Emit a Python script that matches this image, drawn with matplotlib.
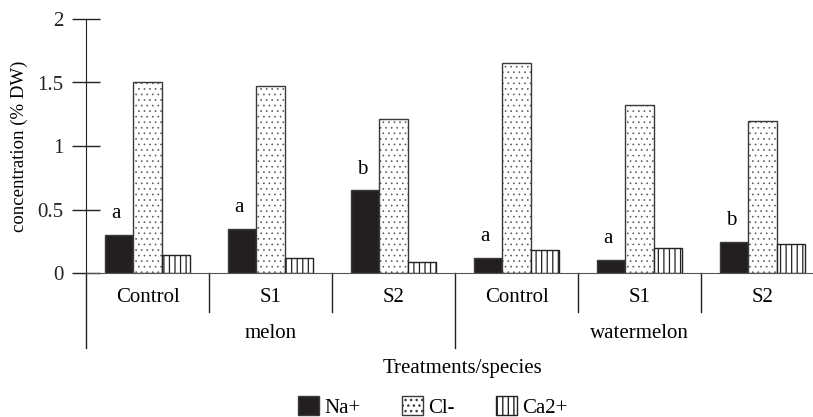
import matplotlib
matplotlib.use("Agg")
import matplotlib.pyplot as plt
import numpy as np
from matplotlib.patches import Patch
from matplotlib.transforms import blended_transform_factory

plt.rcParams["font.family"] = ["Liberation Serif", "DejaVu Serif"]

# data
treatments = ["Control", "S1", "S2", "Control", "S1", "S2"]
species = ["melon", "watermelon"]
na = [0.30, 0.35, 0.65, 0.12, 0.105, 0.245]
cl = [1.50, 1.47, 1.21, 1.65, 1.32, 1.20]
ca = [0.14, 0.12, 0.09, 0.185, 0.195, 0.23]
letters = ["a", "a", "b", "a", "a", "b"]
yticks = [0, 0.5, 1, 1.5, 2]
ytick_labels = ["0", "0.5", "1", "1.5", "2"]

FS = 15
DOT_LW = 0.45
LINE_LW = 0.9


def set_hatch_lw(patches, lw):
    for p in patches:
        if hasattr(p, "set_hatch_linewidth"):
            p.set_hatch_linewidth(lw)


fig = plt.figure(figsize=(8.13, 4.17), dpi=100)
ax = fig.add_axes([86 / 813, 1 - 273 / 417, 1 - 86 / 813, 254 / 417])

x = np.arange(len(treatments)) + 0.5
bw = 0.228
edge = "#3a3a3a"
ax.bar(x - bw, na, bw, color="#231f20", edgecolor=edge, linewidth=1)

with plt.rc_context({"hatch.linewidth": DOT_LW}):
    dots = ax.bar(x, cl, bw, color="white", edgecolor="#555555", linewidth=0, hatch="...")
set_hatch_lw(dots, DOT_LW)
ax.bar(x, cl, bw, fill=False, edgecolor=edge, linewidth=1)

with plt.rc_context({"hatch.linewidth": LINE_LW}):
    lines = ax.bar(x + bw, ca, bw, color="white", edgecolor="#222222", linewidth=1, hatch="|||")
set_hatch_lw(lines, LINE_LW)

for xi, v, s in zip(x, na, letters):
    ax.text(xi - bw - 0.03, v + 0.13, s, ha="center", va="baseline", fontsize=FS)

ax.set_xlim(0, (813 - 86) / 123)
ax.set_ylim(0, 2)
ax.set_yticks(yticks)
ax.set_yticklabels(ytick_labels, fontsize=FS)
ax.tick_params(axis="y", direction="inout", length=20, width=1, pad=6, colors="#222222")
ax.set_xticks([])
for side in ["top", "right"]:
    ax.spines[side].set_visible(False)
ax.spines["left"].set_color("#222222")
ax.spines["bottom"].set_color("#555555")
ax.set_ylabel("concentration (% DW)", fontsize=13.5, labelpad=7)

# group axis below the plot
tr = blended_transform_factory(ax.transData, ax.transAxes)
for b in range(len(treatments) + 1):
    low = -0.295 if b % 3 == 0 else -0.1535
    ax.plot([b, b], [0, low], transform=tr, color="#222222", lw=1, clip_on=False)
for xi, t in zip(x, treatments):
    ax.text(xi, -0.098, t, transform=tr, ha="center", va="center", fontsize=FS)
for i, sp in enumerate(species):
    ax.text(3 * i + 1.5, -0.24, sp, transform=tr, ha="center", va="center", fontsize=FS)

fig.text(462 / 813, 1 - 369 / 417, "Treatments/species", ha="center", va="center", fontsize=FS)

with plt.rc_context({"hatch.linewidth": DOT_LW}):
    h_cl = Patch(facecolor="white", edgecolor=edge, hatch="...", label="Cl-")
with plt.rc_context({"hatch.linewidth": LINE_LW}):
    h_ca = Patch(facecolor="white", edgecolor="#222222", hatch="|||", label="Ca2+")
set_hatch_lw([h_cl], DOT_LW)
set_hatch_lw([h_ca], LINE_LW)
handles = [Patch(facecolor="#231f20", edgecolor=edge, label="Na+"), h_cl, h_ca]
fig.legend(handles=handles, loc="center", bbox_to_anchor=(433 / 813, 1 - 407 / 417),
           ncol=3, frameon=False, fontsize=FS, handlelength=1.0, handleheight=1.0,
           handletextpad=0.25, columnspacing=2.0, borderaxespad=0, borderpad=0)

fig.savefig("out.png", dpi=100)
